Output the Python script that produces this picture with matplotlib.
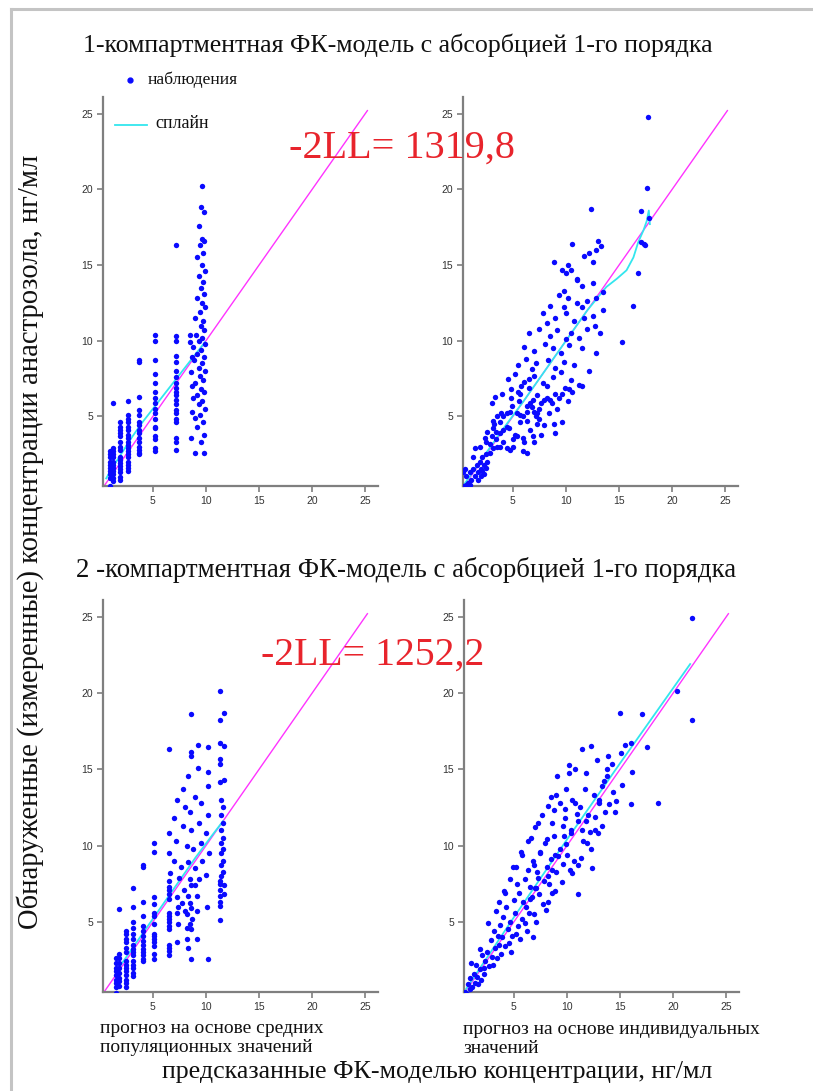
import matplotlib.pyplot as plt
from matplotlib.lines import Line2D

plt.rcParams['font.family'] = ['Liberation Serif', 'DejaVu Serif']

title_1 = "1-компартментная ФК-модель с абсорбцией 1-го порядка"
title_2 = "2 -компартментная ФК-модель с абсорбцией 1-го порядка"
ll_1 = "-2LL= 1319,8"
ll_2 = "-2LL= 1252,2"
ylabel = "Обнаруженные (измеренные) концентрации анастрозола, нг/мл"
xlabel = "предсказанные ФК-моделью концентрации, нг/мл"
sub_pop = "прогноз на основе средних\nпопуляционных значений"
sub_ind = "прогноз на основе индивидуальных\nзначений"
ticks = [5, 10, 15, 20, 25]
identity = [0.4, 25.2]

# 1-compartment, population predictions
pop1_x = ([0.95] * 10 + [1.25] * 12 + [1.9] * 16 + [2.7] * 18 + [3.7] * 15
          + [5.2] * 17 + [7.2] * 20)
pop1_y = ([2.7, 2.5, 2.3, 2.0, 1.8, 1.6, 1.4, 1.2, 0.9, 0.4]
          + [5.9, 2.9, 2.7, 2.5, 2.3, 2.0, 1.8, 1.6, 1.4, 1.2, 0.9, 0.7]
          + [4.6, 4.3, 4.1, 3.9, 3.7, 3.3, 3.0, 2.8, 2.3, 2.1, 1.9, 1.7, 1.5, 1.3, 1.0, 0.8]
          + [6.0, 5.1, 4.8, 4.6, 4.3, 4.1, 3.8, 3.6, 3.3, 3.1, 2.9, 2.7, 2.5, 2.3, 2.0, 1.8, 1.6, 1.4]
          + [8.7, 8.6, 6.3, 5.4, 5.1, 4.6, 4.4, 4.1, 3.9, 3.6, 3.3, 3.0, 2.8, 2.6, 2.5]
          + [10.4, 10.0, 8.7, 7.8, 7.2, 6.6, 6.2, 5.9, 5.5, 5.2, 4.8, 4.3, 4.2, 3.7, 3.5, 2.9, 2.7]
          + [16.3, 10.3, 10.0, 9.0, 8.6, 8.0, 7.6, 7.2, 6.9, 6.6, 6.4, 6.1, 5.8, 5.4, 5.2, 4.8, 4.6, 3.6, 3.3, 2.8])
pop1_x += [9.6, 9.5, 9.8, 9.3, 9.6, 9.8, 9.4, 9.7, 9.2, 9.6, 9.9, 9.3, 9.7, 9.5, 9.8, 9.2,
           9.6, 9.9, 9.4, 9.0, 9.7, 9.5, 9.8, 9.1, 9.6, 9.3, 9.9, 8.8, 9.5, 9.2, 9.8, 8.9,
           9.6, 9.3, 9.9, 8.6, 9.4, 9.7, 9.0, 8.7, 9.5, 9.8, 9.2, 8.8, 9.6, 9.3, 9.9, 8.7,
           9.4, 9.0, 9.7, 9.2, 8.6, 9.8, 9.5, 9.0, 9.8, 8.5, 8.5, 8.7]
pop1_y += [20.2, 18.8, 18.5, 17.6, 16.7, 16.6, 16.3, 15.8, 15.5, 15.0, 14.6, 14.3, 13.9, 13.5, 13.1, 12.8,
           12.5, 12.2, 11.9, 11.5, 11.3, 11.0, 10.7, 10.4, 10.2, 10.0, 9.8, 9.6, 9.4, 9.1, 8.9, 8.7,
           8.5, 8.2, 8.0, 7.9, 7.7, 7.4, 7.2, 7.0, 6.8, 6.6, 6.4, 6.2, 6.0, 5.8, 5.5, 5.3,
           5.1, 4.9, 4.6, 4.3, 3.6, 3.8, 3.3, 2.6, 2.6, 10.4, 9.9, 8.9]
spl_pop1_x = [0.6, 1.0, 2.0, 3.0, 4.0, 5.0, 6.0, 7.0, 8.0, 9.0, 9.9]
spl_pop1_y = [0.9, 1.4, 2.5, 3.6, 4.6, 5.5, 6.4, 7.3, 8.2, 9.1, 9.9]

# 1-compartment, individual predictions
ind1_x = [17.7, 17.6, 17.8, 17.1, 17.1, 17.3, 17.4, 16.8, 12.4, 10.6, 13.0, 13.3, 12.8, 12.2,
          11.7, 12.5, 8.9, 10.2, 9.6, 10.0, 10.5, 11.0, 11.0, 11.5, 12.5, 9.8, 16.3, 15.3,
          9.3, 10.2, 11.0, 12.0, 12.8, 8.5, 9.8, 11.5, 7.8, 9.0, 10.0, 10.8, 11.7, 12.5, 8.2,
          6.5, 7.5, 8.5, 9.2, 10.5, 11.2, 12.0, 10.0, 6.0, 7.0, 8.0, 8.8, 9.5, 10.3, 11.5,
          5.5, 6.2, 7.2, 8.3, 9.0, 9.8, 10.8, 6.8, 4.5, 5.2, 6.0, 7.0, 7.8, 8.8, 9.5, 10.5,
          11.2, 8.2, 4.0, 4.8, 5.5, 6.5, 7.3, 13.5]
ind1_y = [24.8, 20.1, 18.1, 18.55, 16.5, 16.4, 16.3, 14.45, 18.7, 16.4, 16.6, 16.25, 16.0, 15.8,
          15.6, 15.2, 15.2, 15.0, 14.65, 14.45, 14.65, 14.1, 14.0, 13.6, 13.8, 13.3, 12.3, 9.9,
          13.0, 12.8, 12.5, 12.6, 12.8, 12.3, 12.2, 12.2, 11.8, 11.5, 11.8, 11.3, 11.5, 11.6, 11.2,
          10.5, 10.8, 10.3, 10.7, 10.5, 10.2, 10.8, 10.1, 9.6, 9.3, 9.8, 9.5, 9.2, 9.7, 9.5,
          8.4, 8.8, 8.5, 8.7, 8.2, 8.6, 8.4, 8.1, 7.5, 7.8, 7.3, 7.7, 7.2, 7.6, 7.9, 7.4,
          7.1, 7.0, 6.5, 6.8, 6.6, 6.9, 6.4, 13.2]
ind1_x += [3.0, 3.3, 3.1, 3.2, 4.4, 4.6, 4.1, 3.8, 4.9, 4.7, 5.7, 5.6, 5.35, 5.66, 5.97, 6.3,
           6.3, 6.6, 6.8, 6.9, 7.0, 7.2, 7.3, 7.5, 7.6, 7.9, 8.2, 8.5, 8.7, 9.0, 9.3, 9.6,
           9.9, 10.3, 10.6, 5.2, 5.35, 5.0, 4.4, 4.7, 3.8, 4.1, 5.97, 6.3, 6.9, 7.0, 5.97, 6.6,
           7.3, 7.9, 8.9, 9.0, 9.6, 7.5, 6.3, 5.66]
ind1_y += [5.9, 6.3, 4.7, 4.5, 4.3, 4.2, 4.1, 3.9, 5.7, 5.3, 6.5, 6.0, 5.2, 5.1, 5.0, 5.66,
           5.3, 5.9, 5.6, 6.1, 5.3, 5.0, 5.2, 5.5, 5.9, 6.1, 6.2, 6.1, 5.9, 6.5, 6.2, 6.5,
           6.9, 6.8, 6.6, 3.8, 3.7, 3.5, 2.9, 2.8, 3.0, 3.3, 2.7, 2.6, 3.7, 3.3, 3.6, 4.1,
           4.5, 4.4, 4.5, 3.9, 4.6, 4.8, 4.7, 4.6]
ind1_x += [0.3, 0.6, 0.94, 0.3, 0.47, 0.6, 0.94, 1.25, 1.1, 1.4, 1.6, 1.7, 1.9, 2.0, 2.1, 2.3,
           2.5, 2.6, 2.8, 2.8, 3.1, 3.4, 3.5, 0.8, 1.7, 2.1, 2.3, 2.0, 2.5, 1.25, 1.4, 1.9,
           2.5, 3.0, 3.4, 2.6, 3.1, 3.8, 4.1, 4.4, 3.9]
ind1_y += [0.4, 0.44, 0.44, 1.3, 1.5, 1.05, 1.3, 1.5, 0.8, 1.05, 1.8, 1.3, 2.0, 1.5, 2.3, 1.8,
           2.5, 2.0, 2.6, 3.2, 2.9, 3.5, 3.0, 0.6, 0.8, 1.4, 1.2, 1.05, 1.6, 2.3, 2.9, 3.0,
           3.3, 3.7, 4.0, 4.0, 4.2, 4.6, 5.0, 5.2, 5.2]
ind1_x += [5.0, 6.0, 7.6, 8.4, 9.2, 10.2, 11.5, 12.2, 12.8, 13.2, 12.7, 13.5, 6.5, 5.8, 4.8,
           3.5, 2.4]
ind1_y += [3.0, 3.3, 3.8, 5.2, 5.5, 6.0, 7.0, 8.0, 9.2, 10.5, 11.0, 12.0, 7.5, 7.0, 6.2,
           5.0, 3.6]
spl_ind1_x = [0.4, 2.0, 4.0, 6.0, 8.0, 10.0, 12.0, 13.8, 14.8, 15.7, 16.35, 16.8, 17.3, 17.6, 17.8, 17.9]
spl_ind1_y = [0.5, 2.1, 4.1, 6.0, 8.0, 10.0, 12.0, 13.55, 14.1, 14.65, 15.5, 16.5, 17.3, 17.9, 18.6, 17.7]

# 2-compartment, population predictions
pop2_x = ([1.54] * 9 + [1.85] * 9 + [2.5] * 14 + [3.1] * 14 + [4.05] * 12 + [5.15] * 12
          + [6.5] * 14)
pop2_y = ([2.6, 2.3, 2.0, 1.8, 1.5, 1.2, 1.0, 0.7, 0.35]
          + [5.85, 2.9, 2.66, 2.33, 2.0, 1.67, 1.34, 1.12, 0.8]
          + [4.4, 4.2, 3.9, 3.65, 3.3, 3.0, 2.45, 2.2, 2.0, 1.8, 1.5, 1.2, 1.0, 0.7]
          + [6.0, 5.0, 4.6, 4.2, 3.9, 3.5, 3.2, 3.0, 2.8, 2.45, 2.2, 1.96, 1.67, 1.45]
          + [6.3, 5.4, 4.75, 4.4, 4.1, 3.76, 3.5, 3.2, 3.0, 2.8, 2.55, 2.45]
          + [6.6, 6.2, 5.6, 5.4, 4.86, 4.2, 4.1, 3.9, 3.65, 3.4, 2.9, 2.55]
          + [7.3, 7.06, 6.85, 6.5, 5.6, 5.4, 5.2, 5.0, 4.75, 4.5, 3.5, 3.3, 3.1, 2.8])
pop2_x += [7.26, 7.4, 7.26, 7.4, 7.26, 7.9, 7.7, 8.0, 8.2, 8.2, 8.2, 8.3, 8.6, 8.5, 8.6, 8.6,
           8.3, 8.6, 9.0, 9.2, 9.2, 9.2, 8.5, 8.7, 10.15, 10.1,
           11.35, 11.35, 11.35, 11.35, 11.35, 11.35, 11.35, 11.65, 11.65]
pop2_y += [3.65, 4.86, 5.6, 6.0, 6.6, 7.06, 6.25, 5.7, 5.5, 4.6, 3.85, 3.3, 2.55, 4.86, 4.5, 5.9,
           6.7, 7.4, 7.4, 6.7, 5.7, 3.9, 6.25, 5.2, 2.55, 6.0,
           7.7, 7.5, 7.06, 6.7, 6.3, 6.07, 5.1, 7.4, 6.8]
pop2_x += [11.35, 11.7, 8.6, 11.35, 11.35, 11.7, 6.5, 8.6, 8.6, 9.25, 10.2, 11.35, 11.35, 9.25,
           10.2, 8.3, 11.35, 11.7, 10.2, 7.8,
           11.4, 11.6, 11.4, 11.6, 11.4, 11.6, 11.4, 11.6, 11.4, 11.6, 11.4, 11.6, 11.4,
           7.3, 8.0, 8.5, 9.0, 9.5, 10.2, 7.0, 7.8, 8.6, 9.3, 10.0, 6.5, 7.2, 8.2, 8.8, 9.5,
           10.3, 6.5, 7.0, 7.6, 8.3, 9.0, 9.6, 6.6, 7.5, 8.5, 9.3, 10.0, 6.5, 5.15, 5.15,
           4.05, 4.05, 3.1]
pop2_y += [20.15, 18.7, 18.6, 18.2, 16.7, 16.5, 16.3, 16.15, 15.9, 16.6, 16.45, 15.7, 15.35, 15.1,
           14.8, 14.55, 14.15, 14.3, 13.9, 13.7,
           13.0, 12.5, 12.0, 11.5, 11.0, 10.5, 10.2, 9.8, 9.5, 9.0, 8.7, 8.3, 8.0,
           13.0, 12.5, 12.2, 13.2, 12.8, 12.0, 11.8, 11.3, 11.0, 11.5, 10.8, 10.8, 10.3, 10.0, 9.8, 10.2,
           9.5, 9.5, 9.0, 8.6, 8.9, 8.5, 9.0, 8.2, 7.9, 7.8, 7.8, 8.1, 7.7, 10.2, 9.6,
           8.7, 8.6, 7.2]
spl_pop2_x = [1.5, 3.0, 5.0, 7.0, 9.0, 10.5, 11.6]
spl_pop2_y = [1.7, 3.2, 5.2, 7.2, 9.2, 10.6, 11.6]

# 2-compartment, individual predictions
ind2_x = [21.8, 20.4, 21.8, 15.0, 17.1, 11.4, 12.3, 12.8, 13.9, 14.2, 15.1, 15.5, 16.0, 17.5,
          10.2, 10.75, 10.2, 11.8, 9.1, 13.8, 13.5, 9.9, 13.3, 18.6]
ind2_y = [24.9, 20.15, 18.2, 18.7, 18.6, 16.3, 16.5, 15.6, 15.9, 15.35, 16.1, 16.6, 16.75, 16.45,
          15.3, 15.05, 14.75, 14.75, 14.55, 14.55, 14.25, 13.7, 13.9, 12.8]
ind2_x += [8.5, 9.3, 10.5, 11.2, 12.5, 13.0, 14.0, 16.0, 7.6, 8.8, 9.8, 10.9, 11.8, 12.6, 14.5,
           7.0, 8.6, 10.4, 12.2, 13.3, 6.3, 8.1, 9.9, 11.9, 5.8, 7.5, 9.2, 11.0,
           5.2, 6.9, 8.6, 10.5, 12.4, 4.6, 7.1, 8.9, 4.2, 6.5, 8.2, 11.0]
ind2_y += [13.2, 12.8, 13.0, 12.5, 13.3, 12.8, 12.7, 12.7, 12.0, 12.3, 11.8, 12.1, 11.6, 11.9, 12.2,
           11.2, 11.5, 11.0, 10.9, 11.3, 10.3, 10.4, 10.1, 10.2, 9.4, 9.6, 9.3, 8.7,
           8.6, 8.7, 8.4, 8.2, 8.5, 7.8, 7.2, 7.0, 6.9, 6.5, 6.3, 6.8]
ind2_x += [0.4, 0.6, 0.9, 0.7, 1.1, 1.3, 0.9, 1.6, 1.2, 1.5, 1.9, 1.8, 1.4, 2.2, 2.3, 2.0,
           2.7, 2.5, 2.9, 3.2, 2.8, 3.4, 3.6, 3.1, 3.9, 4.2, 3.7, 4.4, 4.0, 4.8, 4.6, 5.1,
           4.3, 5.4, 5.0, 5.8, 5.5, 6.1, 5.3, 6.4, 6.0, 6.7, 6.3, 7.0, 6.8, 7.4, 7.2, 7.8,
           7.5, 8.1, 7.9, 8.5, 8.3, 8.8, 9.0, 9.3, 9.6, 10.0, 9.8, 10.4, 10.7, 11.0, 11.5,
           12.0, 12.6, 13.0, 13.6, 14.3, 15.2, 16.1, 4.7, 5.6, 6.2, 7.1, 8.0, 6.8, 2.6, 3.3,
           4.1, 4.9, 5.7, 6.6, 7.3, 8.2, 9.0]
ind2_y += [0.4, 0.3, 0.6, 0.9, 0.7, 1.0, 1.3, 0.9, 1.6, 1.4, 1.2, 1.9, 2.2, 1.6, 2.4, 2.8,
           2.1, 3.0, 2.7, 3.3, 3.8, 2.6, 3.5, 4.4, 4.0, 3.4, 4.8, 4.5, 5.3, 4.1, 5.0, 5.6,
           6.0, 4.7, 6.4, 5.2, 6.9, 6.0, 7.5, 5.6, 7.8, 6.6, 8.4, 7.2, 9.0, 6.8, 8.3, 7.7,
           9.5, 8.6, 10.2, 9.1, 7.5, 10.6, 8.3, 9.8, 11.3, 9.4, 12.4, 10.8, 9.0, 11.6, 10.3,
           12.0, 11.0, 13.0, 12.2, 13.5, 14.0, 14.8, 3.0, 3.9, 4.4, 5.0, 5.8, 4.0, 4.9, 5.7,
           7.0, 8.6, 9.6, 10.5, 11.5, 12.6, 13.3]
ind2_x += [3.0, 3.8, 4.5, 5.2, 6.0, 6.9, 7.7, 8.6, 9.5, 10.3, 11.3, 12.3, 2.2, 3.5, 5.9,
           7.3, 8.9, 9.7, 10.8, 11.7, 1.0, 1.8, 3.6, 6.5, 8.2, 9.6, 11.4, 12.9, 14.6, 13.8]
ind2_y += [2.2, 2.9, 3.6, 4.2, 4.9, 5.5, 6.2, 6.9, 7.6, 8.4, 9.2, 9.8, 2.0, 4.1, 6.3,
           7.9, 9.4, 10.6, 12.8, 13.7, 2.3, 3.2, 6.3, 7.3, 8.0, 8.8, 11.0, 10.8, 12.9, 15.0]
spl_ind2_x = [0.5, 5.0, 10.0, 15.0, 21.6]
spl_ind2_y = [0.6, 5.3, 10.4, 15.4, 21.9]

BLUE = '#0a0aff'
CYAN = '#33e6ee'
MAGENTA = '#ff33ff'
RED = '#e8242c'
GRAY = '#7f7f7f'

fig = plt.figure(figsize=(8.13, 10.91), dpi=100)
W, H = 813.0, 1091.0


def add_panel(left_px, top_px, bottom_px, right_px, xs, ys, sx, sy):
    ax = fig.add_axes([left_px / W, 1 - bottom_px / H,
                       (right_px - left_px) / W, (bottom_px - top_px) / H])
    ax.scatter(xs, ys, s=15, color=BLUE, linewidths=0, zorder=3)
    ax.plot(identity, identity, color=MAGENTA, lw=1.0, zorder=2)
    ax.plot(sx, sy, color=CYAN, lw=1.3, zorder=2)
    ax.set_xlim(0.3, 26.2)
    ax.set_ylim(0.4, 26.1)
    ax.set_xticks(ticks)
    ax.set_yticks(ticks)
    for side in ('top', 'right'):
        ax.spines[side].set_visible(False)
    for side in ('left', 'bottom'):
        ax.spines[side].set_color(GRAY)
        ax.spines[side].set_linewidth(1.6)
    ax.tick_params(colors=GRAY, length=4, width=1.2, labelcolor='#333333',
                   labelsize=7.5, pad=3)
    for lab in ax.get_xticklabels() + ax.get_yticklabels():
        lab.set_family('Liberation Sans')
    ax.patch.set_alpha(0)
    return ax


ax1 = add_panel(103, 97, 486, 378, pop1_x, pop1_y, spl_pop1_x, spl_pop1_y)
ax2 = add_panel(463, 97, 486, 738, ind1_x, ind1_y, spl_ind1_x, spl_ind1_y)
ax3 = add_panel(103, 600, 992, 378, pop2_x, pop2_y, spl_pop2_x, spl_pop2_y)
ax4 = add_panel(464, 600, 992, 739, ind2_x, ind2_y, spl_ind2_x, spl_ind2_y)

# page frame
fig.add_artist(Line2D([11 / W, 1], [1 - 9 / H, 1 - 9 / H], color='#c4c4c4', lw=2.2))
fig.add_artist(Line2D([11 / W, 11 / W], [0, 1 - 9 / H], color='#c4c4c4', lw=2.2))

fig.text(398 / W, 1 - 45 / H, title_1, fontsize=18.6, ha='center', va='center', color='#111111')
fig.text(406 / W, 1 - 570 / H, title_2, fontsize=19.4, ha='center', va='center', color='#111111')
fig.text(402 / W, 1 - 148 / H, ll_1, fontsize=29, ha='center', va='center', color=RED)
fig.text(373 / W, 1 - 655 / H, ll_2, fontsize=28.6, ha='center', va='center', color=RED)
fig.text(30 / W, 1 - 542 / H, ylabel, fontsize=20.6, rotation=90, ha='center', va='center',
         color='#111111')
fig.text(437 / W, 1 - 1072 / H, xlabel, fontsize=18.7, ha='center', va='center', color='#111111')
fig.text(100 / W, 1 - 1038 / H, sub_pop, fontsize=14, ha='left', va='center', color='#111111',
         linespacing=1.2)
fig.text(463 / W, 1 - 1039 / H, sub_ind, fontsize=14, ha='left', va='center', color='#111111',
         linespacing=1.2)

# legend
fig.add_artist(Line2D([130 / W], [1 - 80 / H], marker='o', markersize=3.5, color=BLUE, lw=0))
fig.text(148 / W, 1 - 80 / H, "наблюдения", fontsize=12.6, ha='left', va='center', color='#111111')
fig.add_artist(Line2D([115 / W, 147 / W], [1 - 125 / H, 1 - 125 / H], color=CYAN, lw=1.3))
fig.text(155 / W, 1 - 124 / H, "сплайн", fontsize=13, ha='left', va='center', color='#111111')

fig.savefig('out.png', dpi=100)
